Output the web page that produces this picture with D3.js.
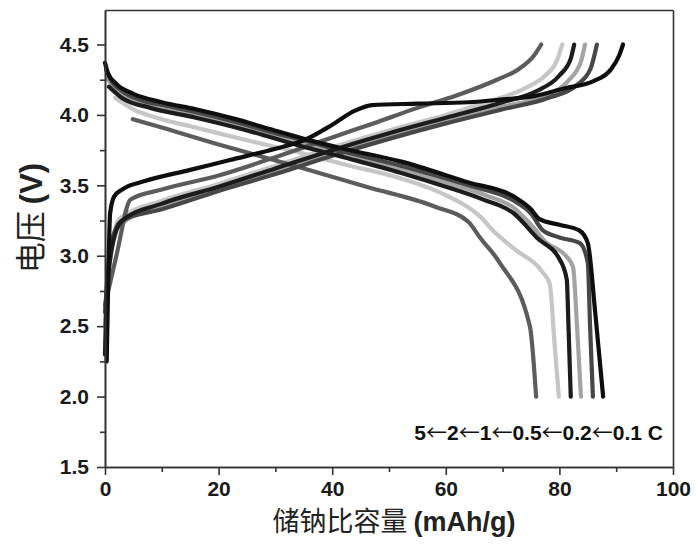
<!DOCTYPE html>
<html>
<head>
<meta charset="utf-8">
<script src="https://cdn.jsdelivr.net/npm/d3@7"></script>
<style>
  body { margin: 0; background: #fff; }
  svg { display: block; }
</style>
</head>
<body>
<svg id="viz"></svg>
<script>
// rates, as they appear in the legend text
const rates = ["0.1C", "0.2C", "0.5C", "1C", "2C", "5C"];

// charge curves: [capacity mAh/g, voltage V]
const charge01 = [[0.3,2.25],[0.6,2.9],[0.9,3.3],[1.6,3.42],[3,3.47],[7,3.53],[15,3.61],[22,3.68],[30,3.76],[35,3.82],[40,3.93],[44,4.03],[47,4.07],[55,4.08],[64,4.09],[70,4.11],[75,4.13],[81,4.19],[86,4.24],[89,4.32],[90.5,4.42],[91.2,4.5]];
const charge02 = [[0,2.6],[0.8,3.0],[2,3.2],[3,3.25],[10,3.33],[20,3.46],[30,3.58],[40,3.71],[50,3.83],[60,3.94],[70,4.04],[78,4.12],[83,4.21],[85.5,4.33],[86.6,4.5]];
const charge05 = [[0,2.5],[0.5,2.9],[1.5,3.15],[3,3.23],[10,3.35],[20,3.47],[30,3.6],[40,3.73],[50,3.85],[60,3.96],[70,4.06],[77,4.13],[81.5,4.24],[83.8,4.38],[84.5,4.5]];
const charge1 = [[0,2.3],[0.3,2.7],[1.2,3.05],[3,3.25],[10,3.37],[20,3.49],[30,3.62],[40,3.75],[50,3.87],[60,3.98],[70,4.09],[76,4.17],[80,4.28],[82,4.4],[82.6,4.5]];
const charge2 = [[0,2.3],[0.3,2.6],[1,3.0],[2.5,3.26],[10,3.39],[20,3.51],[30,3.64],[40,3.77],[50,3.89],[60,4.0],[68,4.1],[74,4.19],[77.5,4.28],[79.5,4.38],[80.5,4.5]];
const charge5 = [[0,2.65],[2,3.0],[4.5,3.4],[10,3.47],[20,3.57],[30,3.7],[40,3.84],[48,3.95],[55,4.05],[62,4.14],[69,4.25],[73,4.33],[75.5,4.42],[76.8,4.5]];

// discharge curves
const discharge01 = [[0,4.37],[0.5,4.3],[2,4.22],[5,4.15],[10,4.09],[16,4.04],[23,3.97],[29,3.9],[35,3.83],[42,3.76],[52,3.67],[64,3.52],[72,3.42],[75,3.33],[76.5,3.26],[80,3.22],[83.5,3.18],[85,3.09],[86.3,2.6],[87.7,2.0]];
const discharge02 = [[0.2,4.32],[1,4.25],[3,4.17],[6,4.11],[10,4.07],[16,4.02],[23,3.95],[30,3.87],[35,3.82],[42,3.74],[52,3.64],[64,3.5],[72,3.39],[75,3.3],[77.1,3.18],[80,3.13],[83.6,3.09],[85,2.95],[85.4,2.5],[85.9,2.0]];
const discharge05 = [[0.4,4.26],[1.5,4.2],[4,4.12],[8,4.06],[16,4.0],[25,3.91],[33.5,3.81],[42,3.72],[52,3.61],[60,3.52],[67,3.43],[72,3.34],[75,3.22],[77.8,3.09],[80.6,3.02],[82.4,2.92],[83.1,2.5],[83.8,2.0]];
const discharge1 = [[0.7,4.2],[3,4.12],[8,4.05],[16,3.98],[25,3.89],[33.5,3.79],[42,3.7],[52,3.59],[60,3.49],[66.5,3.4],[72,3.3],[76,3.13],[80.1,2.97],[81.3,2.83],[81.6,2.5],[82,2.0]];
const discharge2 = [[1.8,4.12],[5,4.04],[10,3.97],[16,3.91],[25,3.82],[33.5,3.74],[42,3.65],[52,3.55],[60,3.43],[66,3.28],[68.3,3.18],[72,3.05],[77.1,2.88],[78.3,2.8],[79.1,2.4],[79.9,2.0]];
const discharge5 = [[4.9,3.97],[10,3.91],[20,3.79],[28,3.7],[35,3.62],[46,3.49],[58,3.35],[64,3.24],[66,3.13],[69.5,2.95],[74.8,2.5],[75.9,2.0]];

const xTicks = [0, 20, 40, 60, 80, 100];
const xMinorTicks = [10, 30, 50, 70, 90];
const yTicks = [1.5, 2.0, 2.5, 3.0, 3.5, 4.0, 4.5];
const yMinorTicks = [1.75, 2.25, 2.75, 3.25, 3.75, 4.25];
const legendParts = ["5", "2", "1", "0.5", "0.2", "0.1 C"];

const app = {
    init() {
        const series = [
            { rate: "0.1C", charge: charge01, discharge: discharge01 },
            { rate: "0.2C", charge: charge02, discharge: discharge02 },
            { rate: "0.5C", charge: charge05, discharge: discharge05 },
            { rate: "1C", charge: charge1, discharge: discharge1 },
            { rate: "2C", charge: charge2, discharge: discharge2 },
            { rate: "5C", charge: charge5, discharge: discharge5 }
        ];
        this.createGraph(series);
    },

    createGraph(series) {
        const width = 696, height = 553;
        const left = 105, right = 673, top = 10, bottom = 467;
        const latin = "'Liberation Sans', Arial, sans-serif";
        const cjk = "'Noto Sans CJK SC', sans-serif";

        this.svg = d3.select("#viz").attr("width", width).attr("height", height);

        const x = d3.scaleLinear().domain([0, 100]).range([left, right]);
        const y = d3.scaleLinear().domain([1.5, 1.5 + (bottom - top) / 140.83]).range([bottom, top]);
        const color = d3.scaleOrdinal().domain(rates)
            .range(["#0e0e0e", "#474747", "#a3a3a3", "#1c1c1c", "#c6c6c6", "#5c5c5c"]);

        const line = d3.line().x(d => x(d[0])).y(d => y(d[1])).curve(d3.curveMonotoneX);

        // curves, light ones first so dark ones sit on top
        const order = ["2C", "0.5C", "5C", "0.2C", "1C", "0.1C"];
        const sorted = order.map(r => series.find(s => s.rate === r));
        const g = this.svg.append("g");
        sorted.forEach(s => {
            [s.charge, s.discharge].forEach(pts => {
                g.append("path").attr("d", line(pts)).attr("fill", "none")
                    .attr("stroke", color(s.rate)).attr("stroke-width", 4.2)
                    .attr("stroke-linejoin", "round").attr("stroke-linecap", "round");
            });
        });

        // frame
        const axisColor = "#333";
        this.svg.append("g").attr("transform", `translate(0, ${top})`)
            .call(d3.axisTop(x).tickValues([]).tickSizeOuter(0));
        this.svg.append("g").attr("transform", `translate(${right}, 0)`)
            .call(d3.axisRight(y).tickValues([]).tickSizeOuter(0));

        // minor ticks
        this.svg.append("g").attr("transform", `translate(0, ${bottom})`)
            .call(d3.axisBottom(x).tickValues(xMinorTicks).tickSize(5).tickFormat("").tickSizeOuter(0));
        this.svg.append("g").attr("transform", `translate(${left}, 0)`)
            .call(d3.axisLeft(y).tickValues(yMinorTicks).tickSize(5).tickFormat("").tickSizeOuter(0));

        // major axes
        const xAxis = this.svg.append("g").attr("transform", `translate(0, ${bottom})`)
            .call(d3.axisBottom(x).tickValues(xTicks).tickSize(8).tickPadding(6).tickFormat(d3.format("d")).tickSizeOuter(0));
        const yAxis = this.svg.append("g").attr("transform", `translate(${left}, 0)`)
            .call(d3.axisLeft(y).tickValues(yTicks).tickSize(8).tickPadding(8).tickFormat(d3.format(".1f")).tickSizeOuter(0));

        this.svg.selectAll(".domain, .tick line").attr("stroke", axisColor).attr("stroke-width", 1.6);
        [xAxis, yAxis].forEach(a => a.selectAll("text")
            .attr("fill", "#1a1a1a").style("font-family", latin)
            .style("font-weight", "bold").style("font-size", "21px"));

        // axis titles
        const xt = this.svg.append("text").attr("x", (left + right) / 2 + 5).attr("y", 531)
            .attr("text-anchor", "middle").attr("fill", "#222").style("font-size", "27px");
        xt.append("tspan").style("font-family", cjk).text("储钠比容量 ");
        xt.append("tspan").style("font-family", latin).style("font-weight", "bold").text("(mAh/g)");

        const yt = this.svg.append("text").attr("transform", `translate(42, 218) rotate(-90)`)
            .attr("text-anchor", "middle").attr("fill", "#222").style("font-size", "31px");
        yt.append("tspan").style("font-family", cjk).text("电压 ");
        yt.append("tspan").style("font-family", latin).style("font-weight", "bold").text("(V)");

        // rate legend
        const lg = this.svg.append("text").attr("x", 663).attr("y", 440).attr("text-anchor", "end")
            .attr("fill", "#111").style("font-family", latin)
            .style("font-weight", "bold").style("font-size", "21px");
        legendParts.forEach((p, i) => {
            if (i > 0) lg.append("tspan").style("font-family", cjk).style("font-weight", "normal").text("\u2190");
            lg.append("tspan").text(p);
        });
    }
}

window.addEventListener("DOMContentLoaded", () => app.init())
</script>
</body>
</html>
